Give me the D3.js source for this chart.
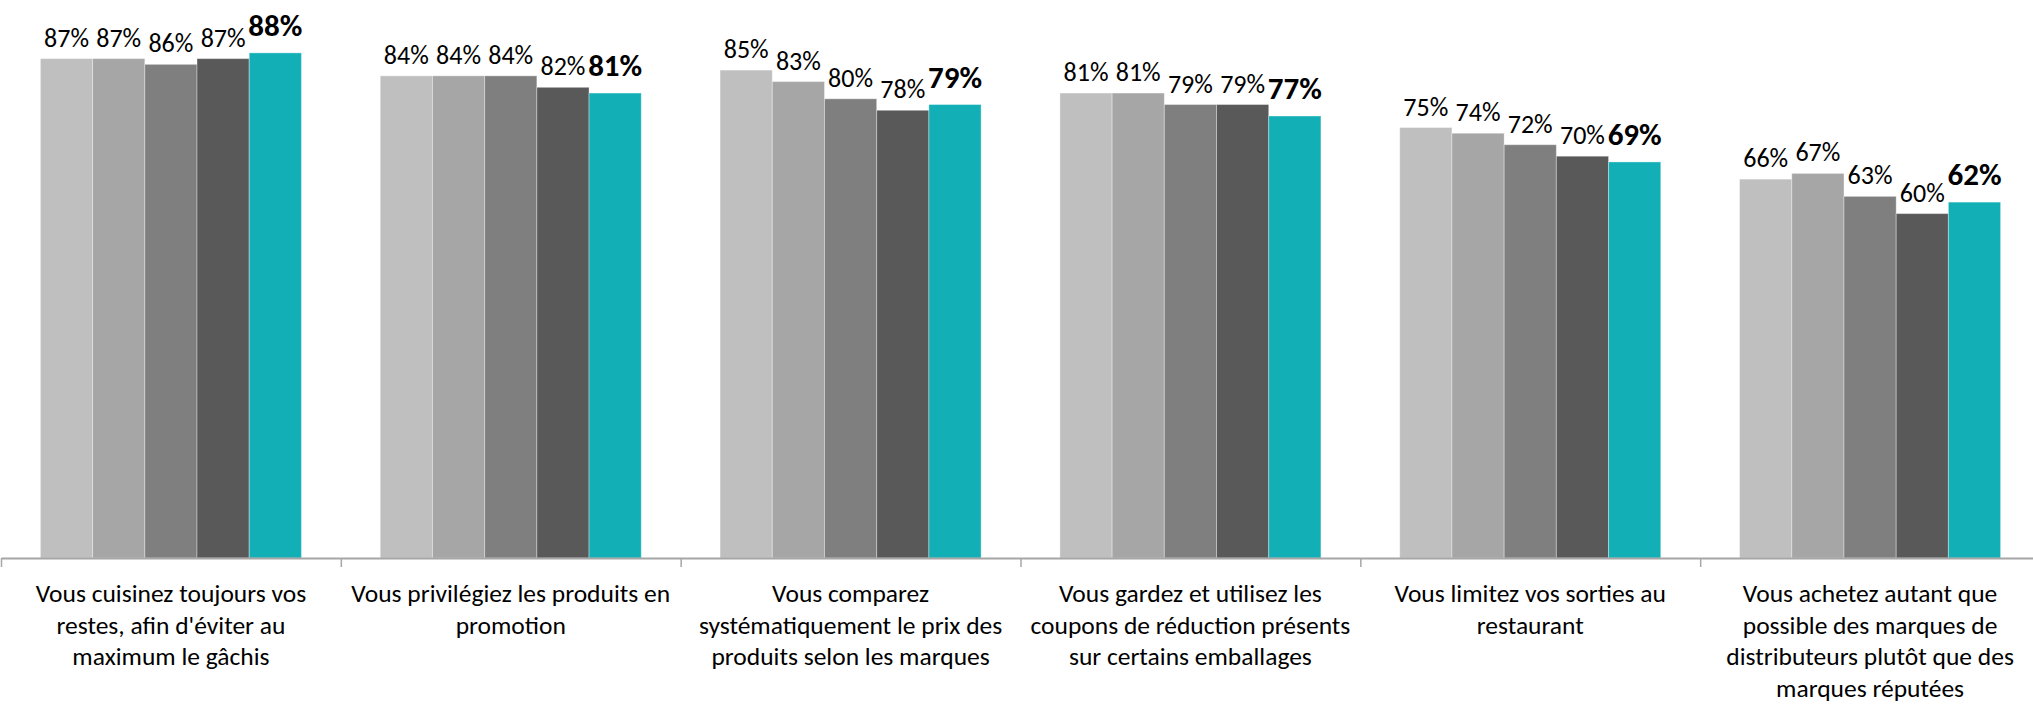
<!DOCTYPE html>
<html>
<head>
<meta charset="utf-8">
<script src="https://cdn.jsdelivr.net/npm/d3@7"></script>
<style>
  html, body { margin: 0; padding: 0; background: #fff; }
  svg { display: block; }
  text { font-family: Carlito, Calibri, Lato, "Open Sans", sans-serif; fill: #000; }
</style>
</head>
<body>
<svg id="chart" width="2033" height="704"></svg>
<script>
const categories = [
  ["Vous cuisinez toujours vos", "restes, afin d'éviter au", "maximum le gâchis"],
  ["Vous privilégiez les produits en", "promotion"],
  ["Vous comparez", "systématiquement le prix des", "produits selon les marques"],
  ["Vous gardez et utilisez les", "coupons de réduction présents", "sur certains emballages"],
  ["Vous limitez vos sorties au", "restaurant"],
  ["Vous achetez autant que", "possible des marques de", "distributeurs plutôt que des", "marques réputées"]
];
const seriesNames = ["Vague 1", "Vague 2", "Vague 3", "Vague 4", "Vague 5"];
const serie1 = [87, 84, 85, 81, 75, 66];
const serie2 = [87, 84, 83, 81, 74, 67];
const serie3 = [86, 84, 80, 79, 72, 63];
const serie4 = [87, 82, 78, 79, 70, 60];
const serie5 = [88, 81, 79, 77, 69, 62];
const seriesValues = [serie1, serie2, serie3, serie4, serie5];
const colors = ["#BFBFBF", "#A6A6A6", "#7F7F7F", "#595959", "#12AFB7"];

const svg = d3.select("#chart");
const baseY = 558;
const catKeys = categories.map((c, i) => i);

const x0 = d3.scaleBand().domain(catKeys).range([1, 2040]).paddingInner(0).paddingOuter(0);
const x1 = d3.scaleBand().domain(seriesNames).range([0, x0.bandwidth()]).paddingInner(0).paddingOuter(0.755);
const y = d3.scaleLinear().domain([0, 100]).range([baseY, baseY - 574]);

const data = [];
catKeys.forEach(ci => {
  seriesNames.forEach((s, si) => {
    data.push({ ci, si, s, v: seriesValues[si][ci] });
  });
});

// bars
svg.append("g").selectAll("rect").data(data).join("rect")
  .attr("x", d => x0(d.ci) + x1(d.s))
  .attr("y", d => y(d.v))
  .attr("width", x1.bandwidth())
  .attr("height", d => baseY - y(d.v))
  .attr("fill", d => colors[d.si])
  .attr("stroke", "rgba(255,255,255,0.35)")
  .attr("stroke-width", 1);

// value labels
svg.append("g").selectAll("text").data(data).join("text")
  .attr("x", d => x0(d.ci) + x1(d.s) + x1.bandwidth() / 2)
  .attr("y", d => y(d.v) - (d.si === 4 ? 17 : 12))
  .attr("text-anchor", "middle")
  .style("font-size", d => d.si === 4 ? "31px" : "26px")
  .style("font-weight", d => d.si === 4 ? "bold" : "normal")
  .text(d => d.v + "%");

// axis
const axis = d3.axisBottom(x0).tickSize(0).tickFormat("");
const gAxis = svg.append("g").attr("transform", `translate(0,${baseY})`).call(axis);
gAxis.select(".domain").attr("stroke", "#A6A6A6").attr("stroke-width", 2);
gAxis.selectAll(".tick").remove();
const boundaries = catKeys.map(ci => x0(ci)).concat([x0(catKeys[catKeys.length - 1]) + x0.bandwidth()]);
gAxis.selectAll("line.sep").data(boundaries).join("line")
  .attr("class", "sep")
  .attr("x1", d => d + 0.5).attr("x2", d => d + 0.5)
  .attr("y1", 0).attr("y2", 9)
  .attr("stroke", "#A6A6A6").attr("stroke-width", 1.5);

// category labels
const gl = svg.append("g");
categories.forEach((lines, ci) => {
  const t = gl.append("text")
    .attr("x", x0(ci) + x0.bandwidth() / 2)
    .attr("y", 602)
    .attr("text-anchor", "middle")
    .style("font-size", "25.5px");
  lines.forEach((ln, li) => {
    t.append("tspan")
      .attr("x", x0(ci) + x0.bandwidth() / 2)
      .attr("dy", li === 0 ? 0 : 31.7)
      .text(ln);
  });
});
</script>
</body>
</html>
